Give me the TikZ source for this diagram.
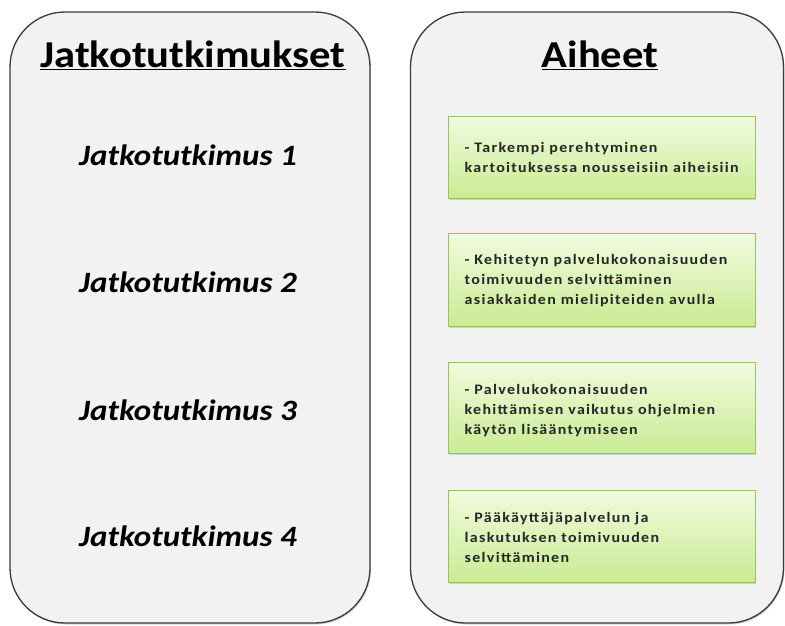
\documentclass[tikz,border=0pt]{standalone}
\usepackage{fontspec}
\setmainfont{Carlito}[FakeStretch=1.12]
\newfontfamily\boxfont{Carlito}[FakeStretch=1.1,LetterSpace=9]
\usetikzlibrary{shadows}
\definecolor{panelfill}{HTML}{F2F2F2}
\definecolor{panelline}{HTML}{3A3A3A}
\definecolor{boxtop}{HTML}{F1FADF}
\definecolor{boxbottom}{HTML}{C9EC93}
\definecolor{boxline}{HTML}{9CC164}
\tikzset{
  panel/.style={draw=panelline,line width=1.3pt,fill=panelfill,rounded corners=55pt,
    minimum width=#1,minimum height=611pt,inner sep=0pt,
    drop shadow={shadow xshift=1pt,shadow yshift=-1.5pt,opacity=0.35}},
  paneltitle/.style={font=\fontsize{38}{42}\selectfont\bfseries,inner sep=0pt},
  itemlabel/.style={font=\fontsize{29.5}{32}\selectfont\bfseries\itshape,inner sep=0pt},
  topicbox/.style={draw=boxline,line width=1pt,top color=boxtop,bottom color=boxbottom,
    minimum width=307pt,minimum height=#1,inner sep=0pt,
    drop shadow={shadow xshift=1pt,shadow yshift=-2pt,opacity=0.3}},
  topictext/.style={font=\boxfont\fontsize{14.5}{19.8}\selectfont\bfseries,text=black!85,
    align=left,inner sep=0pt,anchor=north west}
}
\newcommand{\ul}[1]{\underline{#1}}
\begin{document}
\begin{tikzpicture}[x=1pt,y=-1pt]
\useasboundingbox (0,0) rectangle (785,625);

% Panels
\node[panel=360pt] (left) at (190,317.5) {};
\node[panel=373pt] (right) at (597,317.5) {};

% Titles
\node[paneltitle] (lefttitle) at (193,55) {\ul{Jatkotutkimukset}};
\node[paneltitle] (righttitle) at (600,55) {\ul{Aiheet}};

% Jatkotutkimukset
\foreach \i/\y in {1/155,2/282,3/410,4/536}
  \node[itemlabel] (item\i) at (188,\y) {Jatkotutkimus \i};

% Aiheet
\node[topicbox=82pt] (topic1) at (601.5,157) {};
\node[topicbox=93pt] (topic2) at (601.5,279.5) {};
\node[topicbox=91pt] (topic3) at (601.5,407.5) {};
\node[topicbox=92pt] (topic4) at (601.5,536) {};

\node[topictext] at ([xshift=17pt,yshift=-27pt]topic1.north west)
  {- Tarkempi perehtyminen\\kartoituksessa nousseisiin aiheisiin};
\node[topictext] at ([xshift=17pt,yshift=-22pt]topic2.north west)
  {- Kehitetyn palvelukokonaisuuden\\toimivuuden selvittäminen\\asiakkaiden mielipiteiden avulla};
\node[topictext] at ([xshift=17pt,yshift=-23pt]topic3.north west)
  {- Palvelukokonaisuuden\\kehittämisen vaikutus ohjelmien\\käytön lisääntymiseen};
\node[topictext] at ([xshift=17pt,yshift=-23pt]topic4.north west)
  {- Pääkäyttäjäpalvelun ja\\laskutuksen toimivuuden\\selvittäminen};
\end{tikzpicture}
\end{document}
